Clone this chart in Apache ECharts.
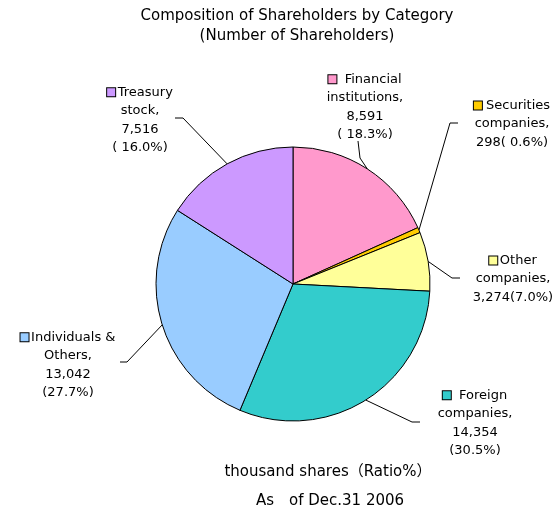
<!DOCTYPE html>
<html>
<head>
<meta charset="utf-8">
<script src="https://cdn.jsdelivr.net/npm/echarts@6/dist/echarts.min.js"></script>
<style>
  html, body { margin: 0; padding: 0; background: #fff; }
  #main { width: 557px; height: 510px; }
</style>
</head>
<body>
<div id="main"></div>
<script>
// data (clockwise from 12 o'clock)
const categories = ['Financial\ninstitutions,', 'Securities\ncompanies,', 'Other\ncompanies,', 'Foreign\ncompanies,', 'Individuals &\nOthers,', 'Treasury\nstock,'];
const values = [8591, 298, 3274, 14354, 13042, 7516];
const ratioLabels = ['( 18.3%)', '( 0.6%)', '(7.0%)', '(30.5%)', '(27.7%)', '( 16.0%)'];
const colors = ['#FF99CC', '#FFCC00', '#FFFF99', '#33CCCC', '#99CCFF', '#CC99FF'];

// label layout (not data)
const keyGap = ['  ', ' ', '\u2009', '  ', '\u2009', '\u2009'];
const valueBreak = ['\n', '', '', '\n', '\n', '\n'];
const labelPos = [[365, 107], [512, 124], [513, 279], [475, 423], [68, 365], [140, 120]];
const leader = [
  [[360, 158], [358, 141]],
  [[450, 123], [458, 123]],
  [[452, 278], [460, 278]],
  [[412, 422], [420, 422]],
  [[127, 362], [120, 362]],
  [[183, 118], [175, 118]]
];

const FONT = "'DejaVu Sans', 'Noto Sans CJK JP', sans-serif";

let chart = echarts.init(document.getElementById('main'));

let rich = {};
colors.forEach(function (c, i) {
  rich['k' + i] = {
    width: 8, height: 8, lineHeight: 18.5,
    backgroundColor: c, borderColor: '#000', borderWidth: 1
  };
});

let pieData = values.map(function (v, i) {
  return {
    name: categories[i],
    value: v,
    itemStyle: { color: colors[i] }
  };
});

let option = {
  animation: false,
  graphic: {
    elements: [
      {
        type: 'text', x: 297, y: 6,
        style: {
          text: 'Composition of Shareholders by Category\n(Number of Shareholders)',
          textAlign: 'center', fill: '#000', lineHeight: 20,
          font: '15px ' + FONT
        }
      },
      {
        type: 'text', x: 328, y: 465,
        style: {
          text: 'thousand shares（Ratio%）',
          textAlign: 'center', fill: '#000',
          font: '15px ' + FONT
        }
      },
      {
        type: 'text', x: 330, y: 494,
        style: {
          text: 'As\u3000of Dec.31 2006',
          textAlign: 'center', fill: '#000',
          font: '15px ' + FONT
        }
      }
    ]
  },
  series: [{
    type: 'pie',
    center: [293, 284],
    radius: 137,
    startAngle: 90,
    clockwise: true,
    avoidLabelOverlap: false,
    itemStyle: { borderColor: '#000', borderWidth: 1 },
    emphasis: { disabled: true },
    label: {
      show: true,
      position: 'outside',
      color: '#000',
      fontFamily: FONT,
      fontSize: 13,
      lineHeight: 18.5,
      align: 'center',
      formatter: function (p) {
        let i = p.dataIndex;
        return '{k' + i + '|}' + keyGap[i] + categories[i] + '\n' +
          values[i].toLocaleString('en-US') + valueBreak[i] + ratioLabels[i];
      },
      rich: rich
    },
    labelLine: {
      show: true,
      lineStyle: { color: '#000', width: 1 }
    },
    labelLayout: function (params) {
      let i = params.dataIndex;
      let pts = params.labelLinePoints;
      return {
        x: labelPos[i][0],
        y: labelPos[i][1],
        align: 'center',
        verticalAlign: 'middle',
        labelLinePoints: [pts[0], leader[i][0], leader[i][1]]
      };
    },
    data: pieData
  }]
};
chart.setOption(option);
</script>
</body>
</html>
